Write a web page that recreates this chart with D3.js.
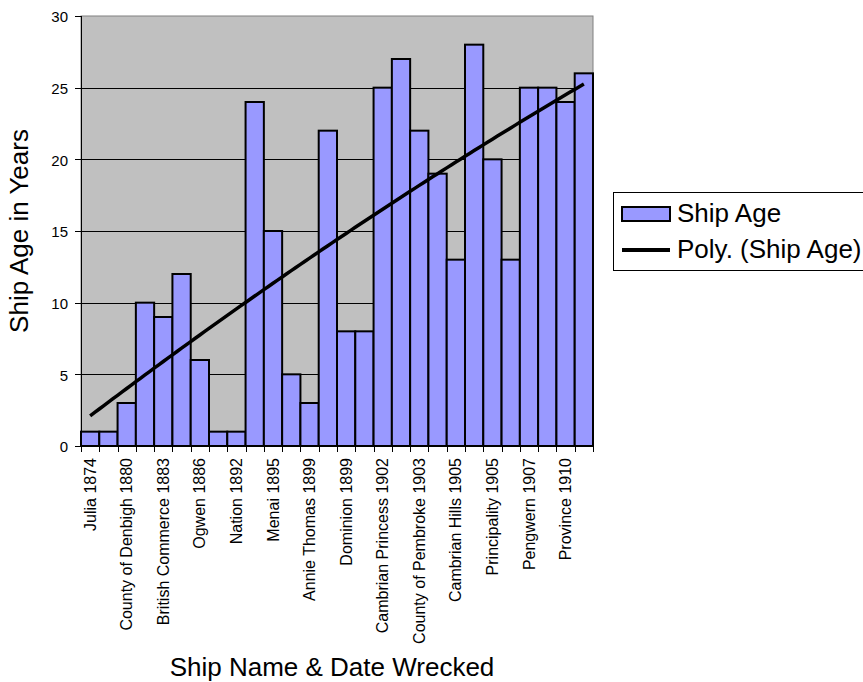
<!DOCTYPE html>
<html>
<head>
<meta charset="utf-8">
<script src="https://cdn.jsdelivr.net/npm/d3@7"></script>
<style>
  html, body { margin: 0; padding: 0; background: #fff; }
  svg { display: block; font-family: "Liberation Sans", Arial, sans-serif; }
</style>
</head>
<body>
<svg id="chart" width="863" height="682"></svg>
<script>
// Ship wrecks: vessel name & year wrecked, and the ship's age in years
const ships = [
  "Julia 1874", "", "County of Denbigh 1880", "", "British Commerce 1883", "",
  "Ogwen 1886", "", "Nation 1892", "", "Menai 1895", "", "Annie Thomas 1899", "",
  "Dominion 1899", "", "Cambrian Princess 1902", "", "County of Pembroke 1903", "",
  "Cambrian Hills 1905", "", "Principality 1905", "", "Pengwern 1907", "",
  "Province 1910", ""
];
const shipAge = [1, 1, 3, 10, 9, 12, 6, 1, 1, 24, 15, 5, 3, 22, 8, 8, 25, 27, 22, 19, 13, 28, 20, 13, 25, 25, 24, 26];
const yTicks = [0, 5, 10, 15, 20, 25, 30];
const seriesName = "Ship Age";
const trendName = "Poly. (Ship Age)";

const svg = d3.select("#chart");
const plot = { left: 81, top: 16, right: 593, bottom: 446 };

const x = d3.scaleBand()
  .domain(d3.range(shipAge.length))
  .range([plot.left, plot.right])
  .paddingInner(0).paddingOuter(0);
const y = d3.scaleLinear().domain([0, 30]).range([plot.bottom, plot.top]);

// Plot area background
svg.append("rect")
  .attr("x", plot.left).attr("y", plot.top)
  .attr("width", plot.right - plot.left).attr("height", plot.bottom - plot.top)
  .attr("fill", "#c0c0c0").attr("stroke", "#808080").attr("stroke-width", 1);

// Horizontal gridlines
svg.append("g").selectAll("line").data(yTicks.filter(t => t > 0 && t < 30)).join("line")
  .attr("x1", plot.left).attr("x2", plot.right)
  .attr("y1", d => Math.round(y(d)) + 0.5).attr("y2", d => Math.round(y(d)) + 0.5)
  .attr("stroke", "#000").attr("stroke-width", 1);

// Bars
svg.append("g").selectAll("rect").data(shipAge).join("rect")
  .attr("x", (d, i) => x(i))
  .attr("y", d => y(d))
  .attr("width", x.bandwidth())
  .attr("height", d => y(0) - y(d))
  .attr("fill", "#9999ff").attr("stroke", "#000").attr("stroke-width", 2);

// Second-order polynomial trend (least squares on x = 1..n)
function polyFit2(vals) {
  const n = vals.length;
  let s = [0, 0, 0, 0, 0], t = [0, 0, 0];
  vals.forEach((v, i) => {
    const xi = i + 1;
    for (let k = 0; k < 5; k++) s[k] += Math.pow(xi, k);
    for (let k = 0; k < 3; k++) t[k] += v * Math.pow(xi, k);
  });
  const A = [[s[0], s[1], s[2], t[0]], [s[1], s[2], s[3], t[1]], [s[2], s[3], s[4], t[2]]];
  for (let c = 0; c < 3; c++) {
    for (let r = c + 1; r < 3; r++) {
      const f = A[r][c] / A[c][c];
      for (let k = c; k < 4; k++) A[r][k] -= f * A[c][k];
    }
  }
  const b = [0, 0, 0];
  for (let r = 2; r >= 0; r--) {
    let sum = A[r][3];
    for (let k = r + 1; k < 3; k++) sum -= A[r][k] * b[k];
    b[r] = sum / A[r][r];
  }
  return xi => b[0] + b[1] * xi + b[2] * xi * xi;
}
const trend = polyFit2(shipAge);
const trendPts = d3.range(0, shipAge.length - 1 + 0.001, 0.25).map(i => [x(0) + x.bandwidth() / 2 + i * x.step(), y(trend(i + 1))]);
svg.append("path")
  .attr("d", d3.line()(trendPts))
  .attr("fill", "none").attr("stroke", "#000").attr("stroke-width", 3.5);

// Axes lines
svg.append("line").attr("x1", plot.left + 0.5).attr("x2", plot.left + 0.5)
  .attr("y1", plot.top).attr("y2", plot.bottom).attr("stroke", "#000");
svg.append("line").attr("x1", plot.left).attr("x2", plot.right)
  .attr("y1", plot.bottom + 0.5).attr("y2", plot.bottom + 0.5).attr("stroke", "#000");

// Y axis ticks and labels
const yAxis = svg.append("g");
yAxis.selectAll("line").data(yTicks).join("line")
  .attr("x1", plot.left - 6).attr("x2", plot.left)
  .attr("y1", d => Math.round(y(d)) + 0.5).attr("y2", d => Math.round(y(d)) + 0.5)
  .attr("stroke", "#000");
yAxis.selectAll("text").data(yTicks).join("text")
  .attr("x", plot.left - 13).attr("y", d => y(d) + 1)
  .attr("dy", "0.35em").attr("text-anchor", "end")
  .attr("font-size", 15).text(d => d);

// X axis ticks at category boundaries
const xb = svg.append("g");
xb.selectAll("line").data(d3.range(shipAge.length + 1)).join("line")
  .attr("x1", i => Math.round(plot.left + i * x.step()) + 0.5)
  .attr("x2", i => Math.round(plot.left + i * x.step()) + 0.5)
  .attr("y1", plot.bottom).attr("y2", plot.bottom + 6)
  .attr("stroke", "#000");
xb.selectAll("text").data(ships.map((s, i) => [s, i]).filter(d => d[0])).join("text")
  .attr("transform", d => `translate(${x(d[1]) + x.bandwidth() / 2},${plot.bottom + 12}) rotate(-90)`)
  .attr("dy", "0.35em").attr("text-anchor", "end")
  .attr("font-size", 16).text(d => d[0]);

// Axis titles
svg.append("text")
  .attr("transform", `translate(28,231) rotate(-90)`)
  .attr("text-anchor", "middle").attr("font-size", 26).text("Ship Age in Years");
svg.append("text")
  .attr("x", 332).attr("y", 676)
  .attr("text-anchor", "middle").attr("font-size", 26).text("Ship Name & Date Wrecked");

// Legend
const lg = svg.append("g");
lg.append("rect").attr("x", 613.5).attr("y", 192.5).attr("width", 270).attr("height", 78)
  .attr("fill", "#fff").attr("stroke", "#000");
lg.append("rect").attr("x", 622).attr("y", 207).attr("width", 48).attr("height", 14)
  .attr("fill", "#9999ff").attr("stroke", "#000").attr("stroke-width", 2);
lg.append("text").attr("x", 677).attr("y", 222)
  .attr("font-size", 26).text(seriesName);
lg.append("line").attr("x1", 622).attr("x2", 670).attr("y1", 250).attr("y2", 250)
  .attr("stroke", "#000").attr("stroke-width", 4);
lg.append("text").attr("x", 677).attr("y", 258)
  .attr("font-size", 26).text(trendName);
</script>
</body>
</html>
